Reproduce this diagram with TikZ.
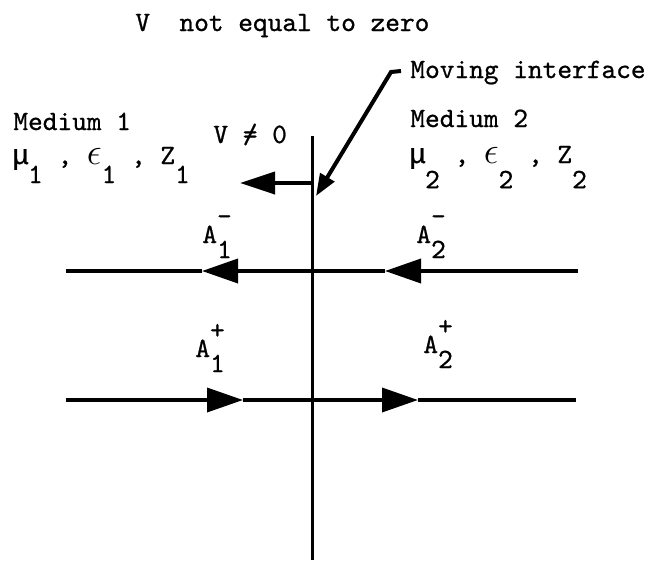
\documentclass[tikz,border=0pt]{standalone}
\usepackage{fontspec}
\setmainfont{lmmono10-regular.otf}[FakeBold=0.8]
\newfontfamily\grk{Liberation Mono}[FakeBold=0.6]
\usetikzlibrary{arrows.meta}
\newcommand{\dn}[2][0.54em]{\raisebox{-#1}{#2}}
\newcommand{\ud}[2]{\rlap{\raisebox{0.65em}{#1}}\raisebox{-0.54em}{#2}}
\newcommand{\eps}{\makebox[0.525em]{\scalebox{1.3}{$\epsilon$}}}
\newcommand{\mmu}{\makebox[0.525em]{\grk μ}}
\tikzset{
  lbl/.style={anchor=base west, inner sep=0pt, font=\fontsize{14}{17}\selectfont},
  wave/.style={line width=1.8pt},
  wavehead/.style={wave, -{Triangle[length=18pt,width=12pt]}}
}
\begin{document}
\begin{tikzpicture}[x=0.5pt,y=-0.5pt]
\useasboundingbox (0,0) rectangle (659,563);
% texts
\node[lbl] (title) at (135,31) {V\ \ not equal to zero};
\node[lbl] (moving) at (410,78) {Moving interface};
\node[lbl] (med1) at (13,130) {Medium 1};
\node[lbl] (med2) at (410,127) {Medium 2};
\node[lbl] (par1) at (13,164) {\mmu\dn[0.68em]{1} , \eps\dn[0.68em]{1} , Z\dn[0.68em]{1}};
\node[lbl] (par2) at (410,163) {\mmu\dn[0.9em]{2} , \eps\dn[0.9em]{2} , Z\dn[0.9em]{2}};
\node[lbl] (vlabel) at (213,143) {V \rlap{/}= 0};
\node[lbl] (a1m) at (202,243) {A\ud{-}{1}};
\node[lbl] (a2m) at (416,243) {A\ud{-}{2}};
\node[lbl] (a1p) at (195,357) {A\ud{+}{1}};
\node[lbl] (a2p) at (423,353) {A\ud{+}{2}};
% interface and its velocity
\coordinate (itop) at (312,136);
\coordinate (ibot) at (312,560);
\draw[line width=1.5pt] (itop) -- (ibot);
\coordinate (vfoot) at (312,183);
\coordinate (vtip) at (240,183);
\draw[line width=2pt,-{Triangle[length=17.5pt,width=11pt]}] (vfoot) -- (vtip);
\coordinate (hook) at (401,71);
\coordinate (bend) at (391,72);
\coordinate (ptip) at (316,196);
\draw[line width=2pt,-{Triangle[length=11pt,width=8pt]}] (hook) -- (bend) -- (ptip);
% waves going left
\coordinate (w1) at (66,271);
\coordinate (e1) at (578,271);
\coordinate (t1a) at (202,271);
\coordinate (t1b) at (385,271);
\draw[wavehead] (e1) -- (t1b);
\draw[wavehead] (t1b) -- (t1a);
\draw[wave] (t1a) -- (w1);
% waves going right
\coordinate (w2) at (66,400);
\coordinate (e2) at (576,400);
\coordinate (t2a) at (243,400);
\coordinate (t2b) at (418,400);
\draw[wavehead] (w2) -- (t2a);
\draw[wavehead] (t2a) -- (t2b);
\draw[wave] (t2b) -- (e2);
\end{tikzpicture}
\end{document}
